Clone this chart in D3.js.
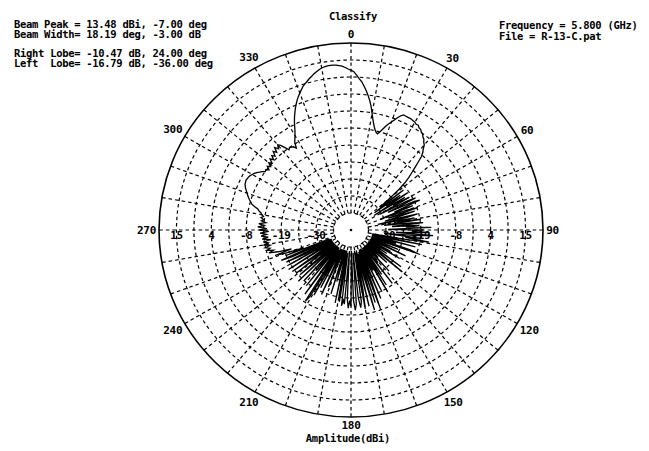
<!DOCTYPE html>
<html>
<head>
<meta charset="utf-8">
<script src="https://cdn.jsdelivr.net/npm/d3@7"></script>
<style>
  html, body { margin: 0; padding: 0; background: #fff; }
  svg text {
    font-family: "DejaVu Sans Mono", monospace;
    font-size: 10.5px;
    font-weight: bold;
    letter-spacing: -0.3px;
    fill: #000;
    white-space: pre;
  }
</style>
</head>
<body>
<svg id="chart" width="649" height="451"></svg>
<script>
// Measured gain (dBi), one sample per degree, clockwise from 0 deg
const gainDb = [
  11.9, 11.5, 10.6, 9.7, 9.0, 7.9, 6.8, 5.6, 4.3, 2.8,
  1.0, -0.6, -1.9, -2.9, -3.6, -3.9, -3.3, -2.4, -1.4, -0.6,
  0.1, 0.9, 1.7, 2.5, 3.01, 2.95, 2.9, 2.9, 2.85, 2.7,
  2.6, 2.3, 2.4, 1.9, 1.8, 1.3, 1.1, 0.5, 0.2, -0.5,
  -0.9, -1.9, -2.6, -3.6, -5.4, -7.0, -8.5, -9.8, -11.5, -13.8,
  -17.5, -20.5, -13.0, -22.5, -14.5, -19.0, -12.5, -23.0, -13.8, -17.5,
  -12.8, -21.5, -14.0, -11.5, -19.5, -12.2, -10.8, -18.0, -13.0, -22.0,
  -14.5, -12.0, -20.0, -13.0, -17.5, -21.0, -12.5, -15.5, -23.0, -13.5,
  -18.0, -12.0, -21.5, -14.5, -11.5, -19.5, -12.5, -16.0, -9.5, -20.5,
  -11.5, -14.5, -10.0, -18.5, -9.0, -13.0, -21.5, -11.5, -16.0, -9.8,
  -15.0, -24.5, -11.5, -20.0, -24.5, -13.0, -24.0, -18.0, -24.5, -14.0,
  -11.8, -24.5, -24.0, -17.0, -24.5, -21.0, -14.5, -24.5, -24.5, -18.5,
  -24.5, -15.5, -24.5, -24.0, -19.0, -24.5, -24.5, -14.0, -24.5, -21.0,
  -13.0, -24.5, -24.5, -17.5, -24.0, -24.5, -20.0, -24.5, -15.5, -24.5,
  -24.5, -19.0, -24.5, -12.5, -24.5, -24.0, -16.0, -24.5, -13.0, -24.5,
  -11.5, -24.0, -18.0, -24.5, -12.0, -24.5, -20.5, -10.5, -24.5, -15.0,
  -8.5, -24.0, -10.0, -23.5, -8.2, -17.0, -24.5, -9.5, -24.0, -14.0,
  -9.0, -24.5, -11.0, -9.5, -12.0, -24.0, -10.5, -9.0, -11.5, -24.5,
  -10.0, -11.5, -9.5, -12.0, -24.5, -10.5, -11.5, -10.0, -24.0, -11.0,
  -12.5, -24.5, -10.5, -24.0, -24.5, -16.0, -24.5, -12.5, -24.5, -22.0,
  -24.5, -14.0, -24.5, -20.0, -11.5, -24.5, -24.0, -13.0, -24.5, -10.5,
  -24.0, -9.8, -8.0, -24.5, -18.0, -9.5, -24.5, -24.0, -11.5, -24.5,
  -16.0, -24.5, -12.0, -24.5, -24.0, -11.0, -24.5, -18.5, -12.5, -24.5,
  -24.0, -12.0, -24.5, -17.5, -11.5, -24.5, -24.0, -11.0, -20.0, -24.5,
  -12.0, -24.5, -16.0, -11.5, -24.5, -13.5, -10.5, -24.0, -12.0, -17.0,
  -12.5, -9.5, -14.0, -10.5, -8.2, -9.5, -7.9, -8.8, -7.6, -9.0,
  -7.5, -8.6, -7.4, -9.4, -7.2, -8.8, -7.0, -8.4, -6.8, -9.0,
  -6.6, -8.5, -6.2, -7.8, -6.4, -8.2, -7.0, -7.6, -6.8, -7.4,
  -6.9, -6.6, -6.0, -5.6, -4.6, -3.8, -3.4, -2.9, -2.5, -2.1,
  -1.8, -1.4, -1.0, -0.7, -0.4, -0.3, -0.2, -0.3, -0.4, -0.6,
  -0.9, -1.2, -1.6, -2.2, -2.6, -3.3, -3.1, -3.8, -2.9, -3.6,
  -2.6, -3.3, -2.2, -3.0, -1.9, -2.6, -1.4, -2.2, -0.9, -1.8,
  -0.9, -1.5, -2.6, -3.7, -3.31, -3.5, -3.7, -4.4, -2.9, -2.2,
  -1.4, -0.5, 0.6, 1.8, 2.9, 3.9, 4.9, 5.8, 6.7, 7.5,
  8.2, 8.9, 9.6, 10.1, 10.55, 11.1, 11.5, 12.0, 12.4, 12.8,
  13.1, 13.3, 13.45, 13.48, 13.45, 13.35, 13.2, 13.0, 12.6, 12.2
];

// Angular ticks (deg) and their labels
const angleTicks = [0, 30, 60, 90, 120, 150, 180, 210, 240, 270, 300, 330];
const angleLabels = ["0", "30", "60", "90", "120", "150", "180", "210", "240", "270", "300", "330"];

// Amplitude labels and the ring each one sits on
const ampRings = [2, 4, 6, 8, 10];
const ampLabels = ["-30", "-19", "-8", "4", "15"];

// Annotation blocks
const infoLeft = [
  "Beam Peak = 13.48 dBi, -7.00 deg",
  "Beam Width= 18.19 deg, -3.00 dB",
  "",
  "Right Lobe= -10.47 dB, 24.00 deg",
  "Left  Lobe= -16.79 dB, -36.00 deg"
];
const infoRight = [
  "Frequency = 5.800 (GHz)",
  "File = R-13-C.pat"
];
const titleText = "Classify";
const axisTitle = "Amplitude(dBi)";

// ---- layout ----
const CX = 351, CY = 230, R = 190;
const KX = 192 / R, KY = 187 / R;   // plot area is slightly wider than tall
const RING_COUNT = 11;

const svg = d3.select("#chart");
svg.append("rect").attr("width", 649).attr("height", 451).attr("fill", "#fff");

const rScale = d3.scaleLinear().domain([-30, 19]).range([0, R]);
const ringScale = d3.scaleLinear().domain([0, RING_COUNT]).range([0, R]);
const rad = d => d * Math.PI / 180;

const plot = svg.append("g")
  .attr("transform", `translate(${CX},${CY}) scale(${KX},${KY})`);

// dashed rings
plot.append("g")
  .selectAll("circle")
  .data(d3.range(1, RING_COUNT))
  .join("circle")
  .attr("r", d => ringScale(d))
  .attr("fill", "none")
  .attr("stroke", "#000")
  .attr("stroke-width", 1.2)
  .attr("stroke-dasharray", "3.5,3");

// dashed spokes every 10 deg
plot.append("g")
  .selectAll("line")
  .data(d3.range(0, 360, 10))
  .join("line")
  .attr("x1", d => ringScale(1) * Math.sin(rad(d)))
  .attr("y1", d => -ringScale(1) * Math.cos(rad(d)))
  .attr("x2", d => R * Math.sin(rad(d)))
  .attr("y2", d => -R * Math.cos(rad(d)))
  .attr("stroke", "#000")
  .attr("stroke-width", 1.2)
  .attr("stroke-dasharray", "3.5,3");

// outer boundary
plot.append("circle")
  .attr("r", R)
  .attr("fill", "none")
  .attr("stroke", "#000")
  .attr("stroke-width", 1.6);

// amplitude labels along the 90/270 axis
const ampG = svg.append("g");
[-1, 1].forEach(side => {
  ampG.selectAll(null)
    .data(ampRings)
    .join("text")
    .attr("x", (d) => CX + side * ringScale(d) * KX)
    .attr("y", CY + 5)
    .attr("text-anchor", "middle")
    .attr("dominant-baseline", "central")
    .style("font-size", "11px")
    .text((d, i) => ampLabels[i]);
});

// angle labels around the rim
const labelPad = (d, i) => {
  const s = Math.abs(Math.sin(rad(d))), c = Math.abs(Math.cos(rad(d)));
  return 3.5 + s * angleLabels[i].length * 3 + c * 5;
};
svg.append("g")
  .selectAll("text")
  .data(angleTicks)
  .join("text")
  .attr("x", (d, i) => CX + (R * KX + labelPad(d, i)) * Math.sin(rad(d)))
  .attr("y", (d, i) => CY - (R * KY + labelPad(d, i)) * Math.cos(rad(d)))
  .attr("text-anchor", "middle")
  .attr("dominant-baseline", "central")
  .style("font-size", "11px")
  .text((d, i) => angleLabels[i]);

// radiation pattern
const pattern = gainDb.map((g, i) => ({ angle: i, g }));
const line = d3.lineRadial()
  .angle(d => rad(d.angle))
  .radius(d => rScale(d.g))
  .curve(d3.curveLinearClosed);

plot.append("path")
  .datum(pattern)
  .attr("d", line)
  .attr("fill", "none")
  .attr("stroke", "#000")
  .attr("stroke-width", 1.3)
  .attr("stroke-linejoin", "miter");

// centre mark
plot.append("circle").attr("r", 1.3).attr("fill", "#000");

// titles
svg.append("text")
  .attr("x", CX + 2).attr("y", 20)
  .attr("text-anchor", "middle")
  .text(titleText);

svg.append("text")
  .attr("x", 348).attr("y", 442)
  .attr("text-anchor", "middle")
  .text(axisTitle);

// annotation blocks
const leftY = [27.5, 38, 47, 56.5, 67];
svg.append("g")
  .selectAll("text")
  .data(infoLeft)
  .join("text")
  .attr("x", 14)
  .attr("y", (d, i) => leftY[i])
  .text(d => d);

svg.append("g")
  .selectAll("text")
  .data(infoRight)
  .join("text")
  .attr("x", 499)
  .attr("y", (d, i) => 29 + i * 10.5)
  .text(d => d);
</script>
</body>
</html>
